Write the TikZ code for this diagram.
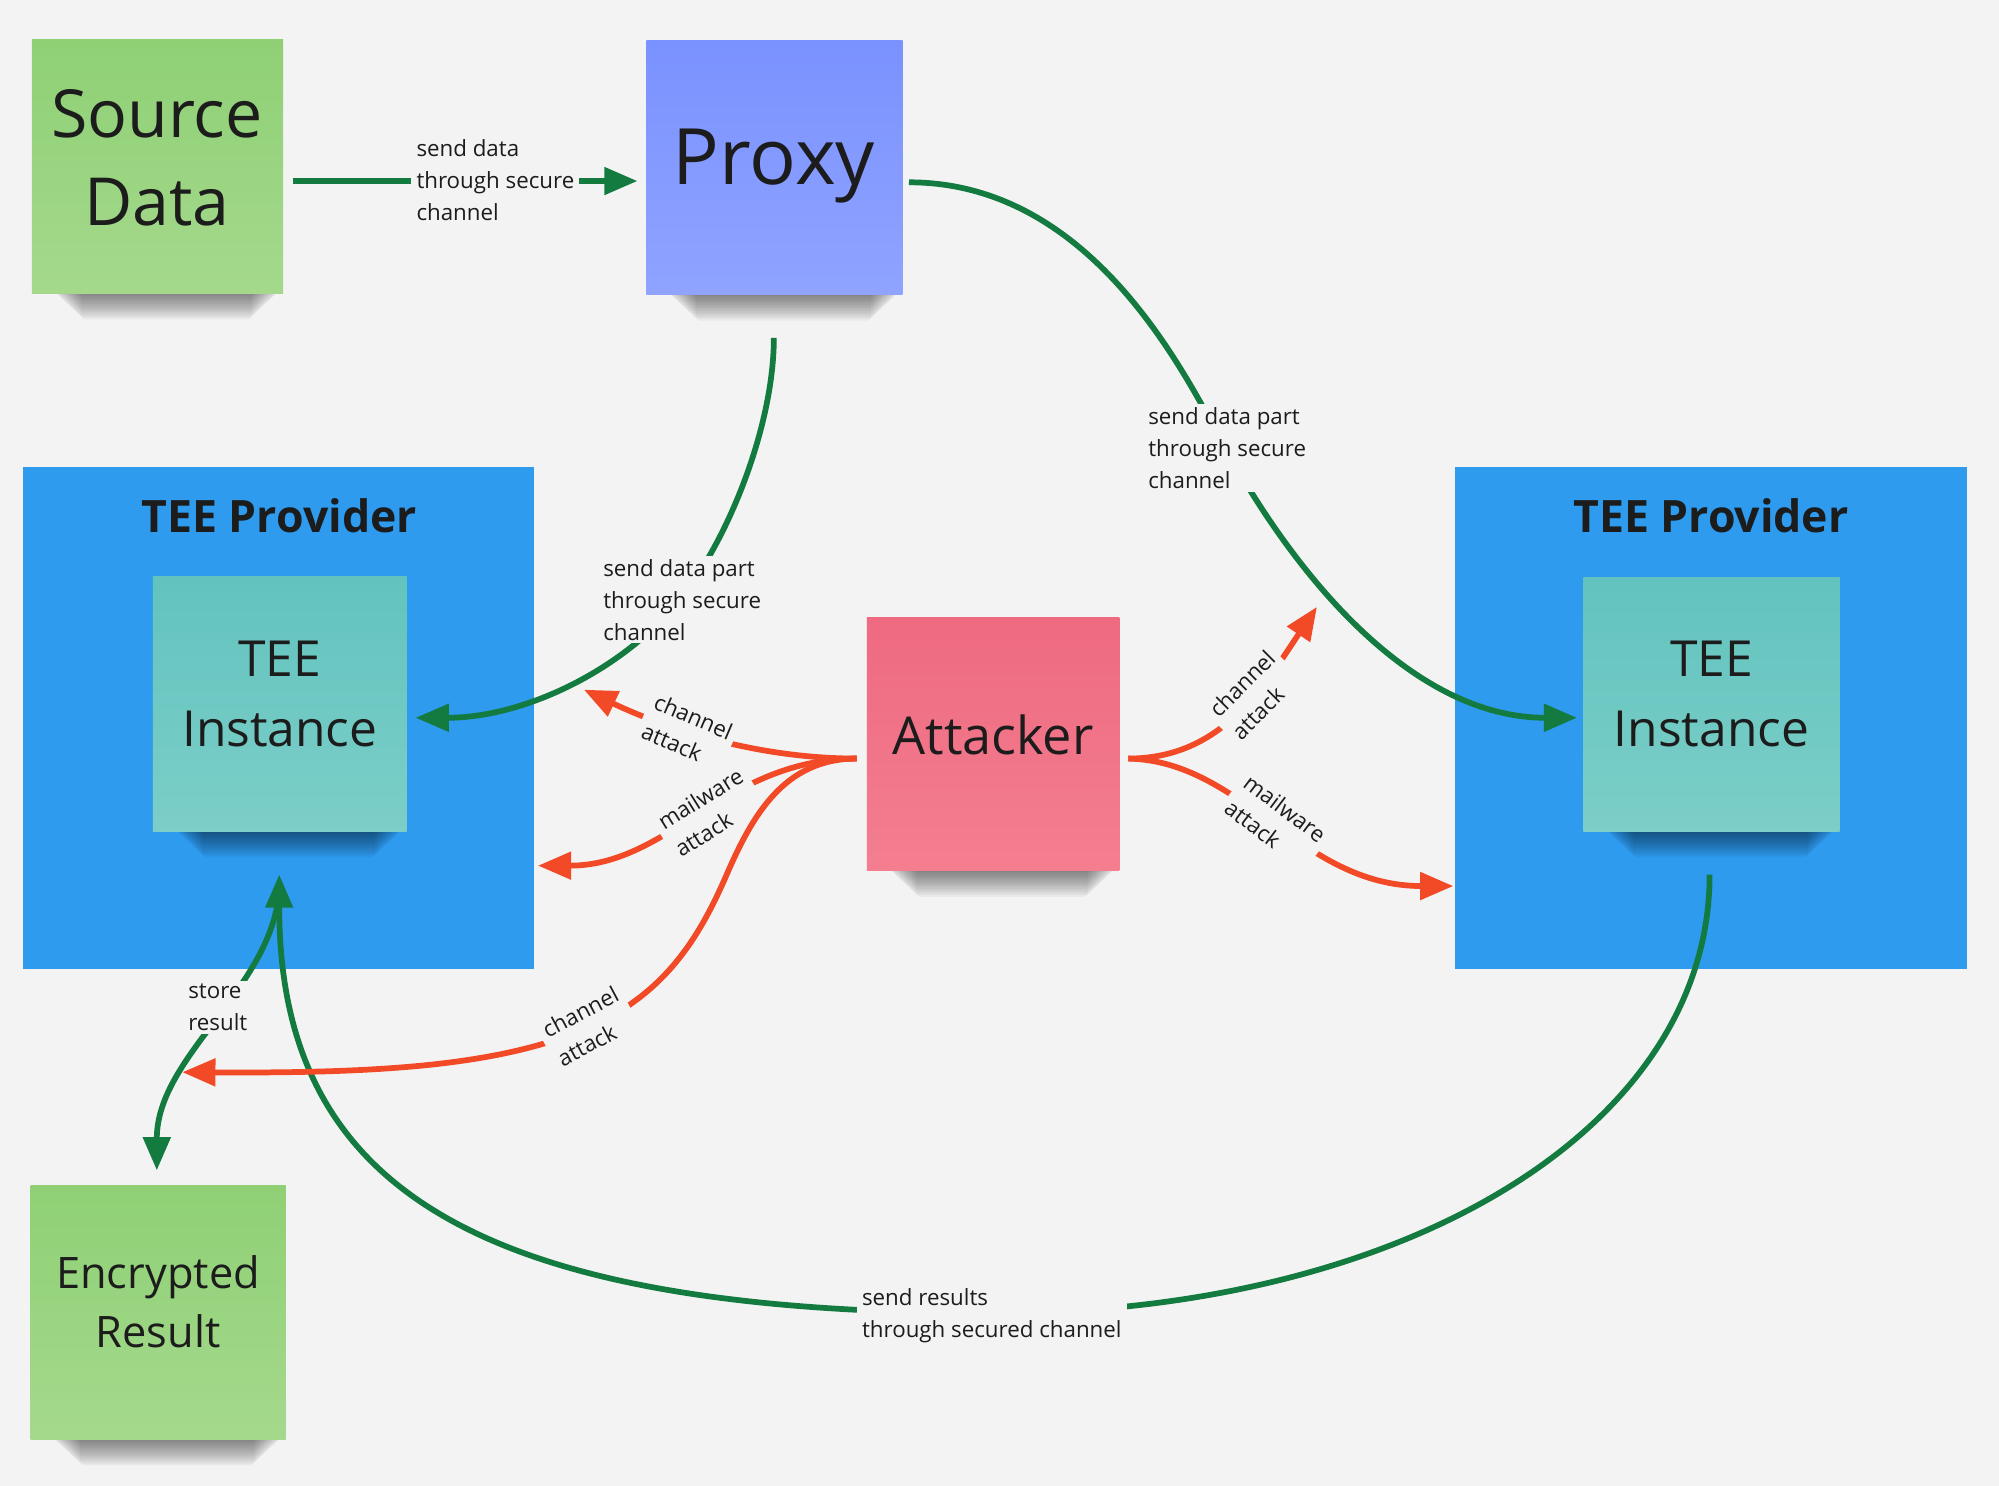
\documentclass[tikz,border=0pt]{standalone}
\usepackage{fontspec}
\setmainfont{Open Sans}
\usetikzlibrary{arrows.meta,calc}
\definecolor{bgc}{HTML}{F3F3F3}
\definecolor{grn}{HTML}{137A40}
\definecolor{redc}{HTML}{F24A26}
\definecolor{provc}{HTML}{2E9BEF}
\definecolor{txt}{HTML}{1C1C1C}
\definecolor{srcT}{HTML}{8FD075}
\definecolor{srcB}{HTML}{A4D98C}
\definecolor{prxT}{HTML}{7A92FF}
\definecolor{prxB}{HTML}{8FA3FF}
\definecolor{insT}{HTML}{62C3BE}
\definecolor{insB}{HTML}{7CCEC8}
\definecolor{attT}{HTML}{EE6A80}
\definecolor{attB}{HTML}{F47E90}
\newcommand\noteshadow[3]{%
  \foreach \k in {0,...,13}{%
    \fill[black,opacity=0.04,rounded corners=3pt]
      ({#1+18+1.6*\k},{#3-4}) rectangle ({#2-4-1.6*\k},{#3+1+1.5*\k});}}
\begin{document}
\begin{tikzpicture}[x=1pt,y=-1pt,
  box/.style={inner sep=0pt,outer sep=0pt,draw=none},
  bigtxt/.style={text=txt,align=center,inner sep=0pt},
  lbl/.style={text=txt,font=\fontsize{17.5}{25}\selectfont,align=left,fill=bgc,inner ysep=2.5pt,inner xsep=4pt},
  glink/.style={draw=grn,line width=4.5pt},
  rlink/.style={draw=redc,line width=4.5pt},
  arw/.style={-{Triangle[length=26pt,width=21pt]}}]
\fill[bgc] (0,0) rectangle (1568,1165.5);
\useasboundingbox (0,0) rectangle (1568,1165.5);

% TEE provider boxes
\node[box,fill=provc,minimum width=401pt,minimum height=394pt] (provL) at (218.5,563) {};
\node[box,fill=provc,minimum width=402pt,minimum height=394pt] (provR) at (1342,563) {};

% shadows
\noteshadow{25}{222}{230}
\noteshadow{507}{708}{231}
\noteshadow{120}{319}{652}
\noteshadow{1242}{1443}{652}
\noteshadow{680}{878}{683}
\noteshadow{24}{224}{1129}

% notes
\node[box,minimum width=197pt,minimum height=199pt,top color=srcT,bottom color=srcB] (src) at (123.5,130.5) {};
\node[box,minimum width=201pt,minimum height=199pt,top color=prxT,bottom color=prxB] (proxy) at (607.5,131.5) {};
\node[box,minimum width=199pt,minimum height=200pt,top color=insT,bottom color=insB] (instL) at (219.5,552) {};
\node[box,minimum width=201pt,minimum height=199pt,top color=insT,bottom color=insB] (instR) at (1342.5,552.5) {};
\node[box,minimum width=198pt,minimum height=199pt,top color=attT,bottom color=attB] (att) at (779,583.5) {};
\node[box,minimum width=200pt,minimum height=199pt,top color=srcT,bottom color=srcB] (enc) at (124,1029.5) {};

% texts
\node[bigtxt,font=\fontsize{52}{69}\selectfont] (srct) at (123,123.5) {Source\\Data};
\node[bigtxt,font=\fontsize{61}{73}\selectfont,anchor=base] (prxt) at (607,145) {Proxy};
\node[bigtxt,font=\fontsize{35}{42}\selectfont\bfseries,anchor=base] (provLt) at (219,418) {TEE Provider};
\node[bigtxt,font=\fontsize{35}{42}\selectfont\bfseries,anchor=base] (provRt) at (1342,418) {TEE Provider};
\node[bigtxt,font=\fontsize{39}{55}\selectfont] (instLt) at (219.5,544.5) {TEE\\Instance};
\node[bigtxt,font=\fontsize{39}{55}\selectfont] (instRt) at (1342.5,544.5) {TEE\\Instance};
\node[bigtxt,font=\fontsize{41}{50}\selectfont,anchor=base] (attt) at (779,591.5) {Attacker};
\node[bigtxt,font=\fontsize{34}{46}\selectfont] (enct) at (124,1021) {Encrypted\\Result};

% free ends
\coordinate (ta) at (458,541);
\coordinate (tc) at (143,841);
\coordinate (td) at (1033,476);

% green connectors
\draw[glink,arw] ($(src.east)+(8,11.5)$) -- ($(proxy.west)+(-7,10.5)$);
\draw[glink,arw] ($(proxy.east)+(5,11.5)$) .. controls (860,143) and (933,301) .. (962,353)
  .. controls (1030,475) and (1120,563) .. ($(instR.west)+(-5,10.5)$);
\draw[glink,arw] ($(proxy.south)+(-0.5,34)$) .. controls (607,335) and (570,427) .. (531,473)
  .. controls (486,527) and (410,563) .. ($(instL.east)+(7,11)$);
\draw[glink,arw] ($(instR.south)+(-1.5,34)$) .. controls (1341,886) and (1100,1030) .. (780,1030)
  .. controls (380,1030) and (219,936) .. ($(instL.south)+(-0.5,34)$);
\draw[glink,arw] ($(instL.south)+(-0.5,46)$) .. controls (214,775) and (123,828) .. ($(enc.north)+(-1,-12)$);

% red connectors
\draw[rlink,arw] ($(att.west)+(-8,11.5)$) .. controls (600,595) and (530,575) .. (ta);
\draw[rlink,arw] ($(att.west)+(-8,11.5)$) .. controls (569,595) and (525,679) .. ($(provL.east)+(3,116)$);
\draw[rlink,arw] ($(att.east)+(7,11.5)$) .. controls (959,595) and (992,537) .. (td);
\draw[rlink,arw] ($(att.east)+(7,11.5)$) .. controls (975,597) and (1020,695) .. ($(provR.west)+(-1,132)$);

% labels
\node[lbl,anchor=west] (l1) at (322.5,141.4) {send data\\through secure\\channel};
\node[lbl,anchor=west] (l2) at (896.5,351.5) {send data part\\through secure\\channel};
\node[lbl,anchor=west] (l3) at (469,470.5) {send data part\\through secure\\channel};
\node[lbl,anchor=west] (l4) at (143.5,790) {store\\result};
\node[lbl,anchor=west] (l5) at (672,1032) {send results\\through secured channel};
\node[lbl,rotate=-23] (la) at (539,573.5) {channel\\attack};
\node[lbl,rotate=32] (lb) at (556,637) {mailware\\attack};
\node[lbl,rotate=45] (ld) at (983,545) {channel\\attack};
\node[lbl,rotate=-37] (le) at (1000.5,644) {mailware\\attack};

\draw[rlink,arw] ($(att.west)+(-8,11.5)$) .. controls (615,595) and (590,640) .. (570,686)
  .. controls (550,732) and (525,775) .. (470,802) .. controls (400,836) and (300,842) .. (tc);
\node[lbl,rotate=28] (lc) at (461,805) {channel\\attack};
\end{tikzpicture}
\end{document}
